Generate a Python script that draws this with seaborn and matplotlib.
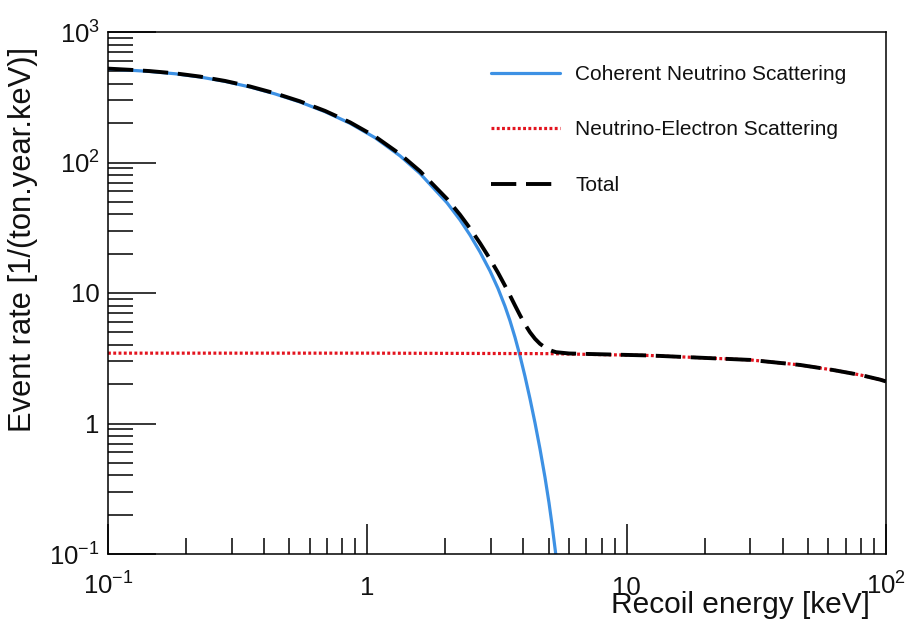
import numpy as np
import pandas as pd
import matplotlib
matplotlib.use("Agg")
import matplotlib.pyplot as plt
import matplotlib.ticker as mticker
import seaborn as sns

# ---- data ----
coh_energy = [0.1, 0.1216, 0.1452, 0.1813, 0.2263, 0.2826, 0.3529, 0.4406, 0.55, 0.6867,
              0.8574, 1.0705, 1.3364, 1.5965, 2.029, 2.2767, 2.4885, 2.7198, 2.9725, 3.191,
              3.3951, 3.549, 3.71, 3.878, 4.054, 4.238, 4.431, 4.632, 4.842, 5.017,
              5.152, 5.34, 5.484]
coh_rate = [520.6, 509.7, 498.1, 478.7, 452.0, 418.3, 378.9, 335.5, 290.8, 245.1,
            199.7, 154.9, 112.5, 82.36, 49.12, 36.33, 27.82, 20.62, 14.74, 10.83,
            7.909, 6.124, 4.576, 3.303, 2.299, 1.549, 1.012, 0.6388, 0.3871, 0.2472,
            0.1692, 0.0962, 0.061]

ele_energy = [0.1, 1.0, 5.0, 12.3, 30.0, 46.6, 62.5, 80.0, 94.8, 100.0]
ele_rate = [3.46, 3.46, 3.43, 3.32, 3.07, 2.81, 2.57, 2.35, 2.17, 2.10]

tot_energy = [0.1, 0.1216, 0.1452, 0.1813, 0.2263, 0.2826, 0.3529, 0.4406, 0.55, 0.6867,
              0.8574, 1.0705, 1.3364, 1.5965, 2.029, 2.2767, 2.4885, 2.7198, 2.9725, 3.191,
              3.3951, 3.549, 3.71, 3.878, 4.054, 4.238, 4.431, 4.632, 4.842, 5.017,
              5.152, 5.34, 6.0, 12.3, 30.0, 46.6, 62.5, 80.0, 94.8, 100.0]
tot_rate = [524.1, 513.2, 501.6, 482.2, 455.5, 421.8, 382.4, 339.0, 294.3, 248.6,
            203.2, 158.4, 116.0, 85.8, 52.6, 39.8, 31.3, 24.1, 18.2, 14.3,
            11.37, 9.58, 8.03, 6.76, 5.75, 5.0, 4.46, 4.08, 3.83, 3.68,
            3.60, 3.52, 3.44, 3.32, 3.07, 2.81, 2.57, 2.35, 2.17, 2.10]

series_labels = ["Coherent Neutrino Scattering", "Neutrino-Electron Scattering", "Total"]
x_tick_values = [0.1, 1, 10, 100]
x_tick_labels = [r"$10^{-1}$", "1", "10", r"$10^{2}$"]
y_tick_values = [0.1, 1, 10, 100, 1000]
y_tick_labels = [r"$10^{-1}$", "1", "10", r"$10^{2}$", r"$10^{3}$"]
x_title = "Recoil energy [keV]"
y_title = "Event rate [1/(ton.year.keV)]"

# ---- style ----
sns.set_style("white")
plt.rcParams["font.family"] = ["Liberation Sans", "DejaVu Sans"]
plt.rcParams["mathtext.fontset"] = "custom"
plt.rcParams["mathtext.rm"] = "Liberation Sans"
plt.rcParams["mathtext.it"] = "Liberation Sans:italic"
plt.rcParams["mathtext.bf"] = "Liberation Sans:bold"

W, H = 905, 623
fig = plt.figure(figsize=(W / 100, H / 100), dpi=100)
L, R, T, B = 108, 886, 32, 554
ax = fig.add_axes([L / W, 1 - B / H, (R - L) / W, (B - T) / H])

df_coh = pd.DataFrame({"E": coh_energy, "rate": coh_rate})
df_ele = pd.DataFrame({"E": ele_energy, "rate": ele_rate})
df_tot = pd.DataFrame({"E": tot_energy, "rate": tot_rate})

sns.lineplot(data=df_coh, x="E", y="rate", ax=ax, color="#3d91e4", lw=2.3,
             estimator=None, label=series_labels[0])
sns.lineplot(data=df_ele, x="E", y="rate", ax=ax, color="#e3141f", lw=2.3,
             estimator=None, label=series_labels[1], linestyle=(0, (0.9, 0.75)))
sns.lineplot(data=df_tot, x="E", y="rate", ax=ax, color="black", lw=2.8,
             estimator=None, label=series_labels[2], linestyle=(0, (6.5, 2.5)))

ax.set_xscale("log")
ax.set_yscale("log")
ax.set_xlim(0.1, 100)
ax.set_ylim(0.1, 1000)

ax.xaxis.set_major_locator(mticker.FixedLocator(x_tick_values))
ax.xaxis.set_major_formatter(mticker.FixedFormatter(x_tick_labels))
ax.yaxis.set_major_locator(mticker.FixedLocator(y_tick_values))
ax.yaxis.set_major_formatter(mticker.FixedFormatter(y_tick_labels))
ax.xaxis.set_minor_locator(mticker.LogLocator(base=10, subs=np.arange(2, 10), numticks=20))
ax.yaxis.set_minor_locator(mticker.LogLocator(base=10, subs=np.arange(2, 10), numticks=20))
ax.xaxis.set_minor_formatter(mticker.NullFormatter())
ax.yaxis.set_minor_formatter(mticker.NullFormatter())

for sp in ax.spines.values():
    sp.set_color("black")
    sp.set_linewidth(1.1)

ax.tick_params(axis="both", which="both", direction="in", color="black", width=1.1,
               bottom=True, left=True, top=False, right=False,
               labelsize=18.5, labelcolor="#111111")
ax.tick_params(axis="y", which="major", length=34.6, pad=6)
ax.tick_params(axis="y", which="minor", length=18)
ax.tick_params(axis="x", which="major", length=21.6, pad=29.5)
ax.tick_params(axis="x", which="minor", length=11.5)

ax.set_xlabel(x_title, fontsize=21.5, color="#111111")
ax.set_ylabel(y_title, fontsize=22.2, color="#111111")
ax.xaxis.label.set_horizontalalignment("right")
ax.xaxis.label.set_verticalalignment("baseline")
ax.xaxis.set_label_coords((870 - L) / (R - L), -(613 - B) / (B - T))
ax.yaxis.set_label_coords((38 - L) / (R - L), (B - 239) / (B - T))

leg = ax.legend(loc="upper left", bbox_to_anchor=(491 / W, 1 - 65 / H),
                bbox_transform=fig.transFigure, frameon=False, fontsize=15,
                handlelength=3.33, handletextpad=0.72, labelspacing=1.75,
                borderpad=0, borderaxespad=0)
for t in leg.get_texts():
    t.set_color("#111111")

fig.canvas.draw()
for lab in ax.get_xticklabels():
    lab.set_verticalalignment("baseline")

fig.savefig("out.png", dpi=100)
